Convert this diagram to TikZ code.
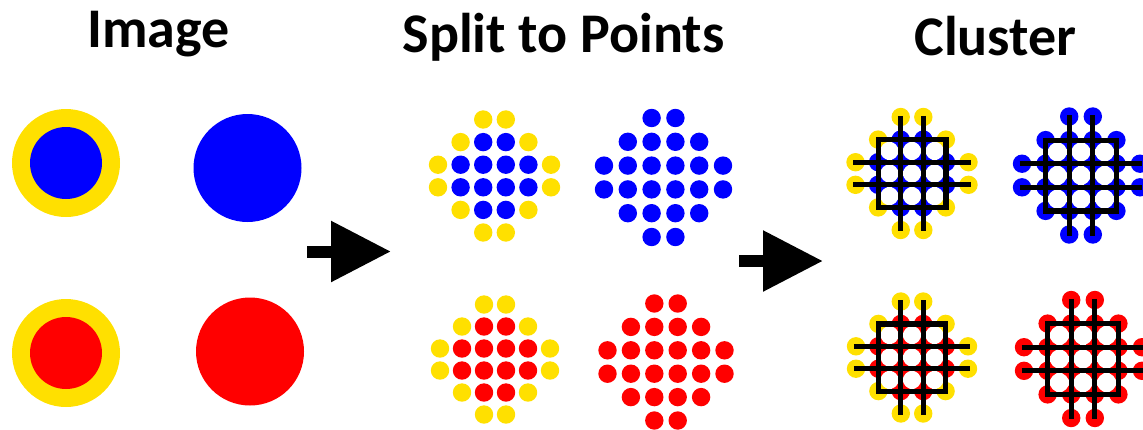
\documentclass[tikz,border=0pt]{standalone}
\usepackage{fontspec}
\setmainfont{Carlito}
\usepackage{xcolor}
\usepackage{tikz}
\usetikzlibrary{arrows.meta}
\definecolor{myyellow}{RGB}{255,224,0}
\definecolor{myblue}{RGB}{0,0,255}
\definecolor{myred}{RGB}{255,0,0}
\tikzstyle{title} = [font=\bfseries\fontsize{28}{32}\selectfont, anchor=base, inner sep=0pt]
\tikzstyle{arrow} = [line width=6pt, -{Triangle[length=30pt, width=29pt]}]
\tikzstyle{gridline} = [line width=2.6pt, black]

\begin{document}
\begin{tikzpicture}[x=0.5pt, y=-0.5pt]
    \clip (0,0) rectangle (1143,429);
    \node[title] (imagetitle) at (158.5,47) {Image};
    \node[title] (splittitle) at (563.5,52.5) {Split to Points};
    \node[title] (clustertitle) at (995.5,55) {Cluster};

    \fill[myyellow] (66,163) circle[radius=27pt];
    \fill[myblue] (66,163) circle[radius=18pt];
    \fill[myblue] (247.5,168) circle[radius=27pt];
    \fill[myyellow] (66,353) circle[radius=27pt];
    \fill[myred] (66,353) circle[radius=18pt];
    \fill[myred] (250,351.5) circle[radius=27pt];

    \coordinate (arrowastart) at (307,251.5);
    \coordinate (arrowaend) at (391,251.5);
    \coordinate (arrowbstart) at (739,261);
    \coordinate (arrowbend) at (823,261);
    \draw[arrow] (arrowastart) -- (arrowaend);
    \draw[arrow] (arrowbstart) -- (arrowbend);

    \foreach \cx/\cy/\s/\oc/\ic in {
        494.5/176/22.6/myyellow/myblue,
        663.5/177.5/23.8/myblue/myblue,
        495/359.5/22/myyellow/myred,
        666/362/23.4/myred/myred,
        912/173.5/22.6/myyellow/myblue,
        1081/175.5/23.6/myblue/myblue,
        912/357.5/22.4/myyellow/myred,
        1083/359/23.6/myred/myred}{
        \foreach \c/\r in {3/1,4/1,2/2,5/2,1/3,6/3,1/4,6/4,2/5,5/5,3/6,4/6}
          \fill[fill=\oc] ({\cx+(\c-3.5)*\s},{\cy+(\r-3.5)*\s}) circle[radius=4.6pt];
        \foreach \c/\r in {3/2,4/2,2/3,3/3,4/3,5/3,2/4,3/4,4/4,5/4,3/5,4/5}
          \fill[fill=\ic] ({\cx+(\c-3.5)*\s},{\cy+(\r-3.5)*\s}) circle[radius=4.6pt];
      }

    \foreach \cx/\cy/\s in {912/173.5/22.6, 1081/175.5/23.6, 912/357.5/22.4, 1083/359/23.6}{
        \foreach \i in {-1,0,1}
          \foreach \j in {-1,0,1}
            \fill[white] ({\cx+\i*\s},{\cy+\j*\s}) circle[radius={0.2*\s pt}];
        \draw[gridline] ({\cx-1.5*\s},{\cy-1.5*\s}) rectangle ({\cx+1.5*\s},{\cy+1.5*\s});
        \foreach \d in {-0.5,0.5}{
          \draw[gridline] ({\cx+\d*\s},{\cy-2.55*\s}) -- ({\cx+\d*\s},{\cy+2.55*\s});
          \draw[gridline] ({\cx-2.6*\s},{\cy+\d*\s}) -- ({\cx+2.6*\s},{\cy+\d*\s});
        }
      }
\end{tikzpicture}
\end{document}
